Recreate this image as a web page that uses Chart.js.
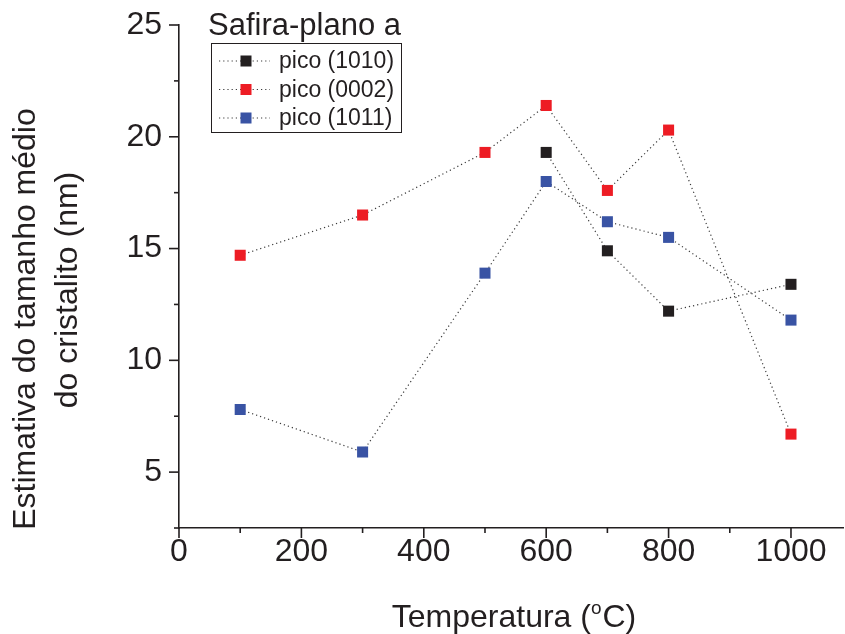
<!DOCTYPE html>
<html>
<head>
<meta charset="utf-8">
<title>Tamanho médio do cristalito - Safira-plano a</title>
<script src="https://cdn.jsdelivr.net/npm/chart.js@4/dist/chart.umd.min.js"></script>
<style>
  html, body { margin: 0; padding: 0; background: #ffffff; }
  canvas { display: block; }
</style>
</head>
<body>
<canvas id="chart" width="845" height="634"></canvas>
<script>
// Temperatures (°C) and crystallite sizes (nm) per diffraction peak
const temps1010 = [600, 700, 800, 1000];
const size1010  = [19.3, 14.9, 12.2, 13.4];

const temps0002 = [100, 300, 500, 600, 700, 800, 1000];
const size0002  = [14.7, 16.5, 19.3, 21.4, 17.6, 20.3, 6.7];

const temps1011 = [100, 300, 500, 600, 700, 800, 1000];
const size1011  = [7.8, 5.9, 13.9, 18.0, 16.2, 15.5, 11.8];

const seriesNames = ['pico (1010)', 'pico (0002)', 'pico (1011)'];
const seriesColors = ['#231f20', '#ed1c24', '#3953a4'];

const xMajorTicks = [0, 200, 400, 600, 800, 1000];
const xMinorTicks = [100, 300, 500, 700, 900];
const yMajorTicks = [5, 10, 15, 20, 25];
const yMinorTicks = [2.5, 7.5, 12.5, 17.5, 22.5];

const legendTitle = 'Safira-plano a';
const xTitle = 'Temperatura (';
const xTitleSup = 'o';
const xTitleEnd = 'C)';
const yTitleLines = ['Estimativa do tamanho médio', 'do cristalito (nm)'];

const FONT = '"Liberation Sans", Arial, Helvetica, sans-serif';
const INK = '#231f20';

function toPoints(xs, ys) {
  return xs.map((x, i) => ({ x: x, y: ys[i] }));
}

function makeDataset(i, xs, ys) {
  return {
    label: seriesNames[i],
    data: toPoints(xs, ys),
    borderColor: '#3a3a3a',
    borderWidth: 1.2,
    borderDash: [1.2, 3],
    backgroundColor: seriesColors[i],
    pointBackgroundColor: seriesColors[i],
    pointBorderWidth: 0,
    pointStyle: 'rect',
    pointRadius: 7.8,
    pointHoverRadius: 7.8,
    tension: 0,
    fill: false
  };
}

// Axis ticks, axis titles and the boxed legend
const decorations = {
  id: 'decorations',
  afterDraw(chart) {
    const ctx = chart.ctx;
    const xs = chart.scales.x, ys = chart.scales.y;
    const area = chart.chartArea;
    ctx.save();
    ctx.strokeStyle = INK;
    ctx.lineWidth = 1.6;
    // x ticks pointing down
    const drawX = (vals, len) => vals.forEach(v => {
      const px = xs.getPixelForValue(v);
      ctx.beginPath(); ctx.moveTo(px, area.bottom); ctx.lineTo(px, area.bottom + len); ctx.stroke();
    });
    drawX(xMajorTicks, 10);
    drawX(xMinorTicks, 5);
    // y ticks pointing left
    const drawY = (vals, len) => vals.forEach(v => {
      const py = ys.getPixelForValue(v);
      ctx.beginPath(); ctx.moveTo(area.left, py); ctx.lineTo(area.left - len, py); ctx.stroke();
    });
    drawY(yMajorTicks, 10);
    drawY(yMinorTicks, 5);

    // x axis title with superscript degree mark
    ctx.fillStyle = INK;
    ctx.textBaseline = 'alphabetic';
    ctx.textAlign = 'left';
    const big = '32px ' + FONT, small = '19px ' + FONT;
    ctx.font = big;
    const w1 = ctx.measureText(xTitle).width;
    const w3 = ctx.measureText(xTitleEnd).width;
    ctx.font = small;
    const w2 = ctx.measureText(xTitleSup).width + 1;
    const total = w1 + w2 + w3;
    const cx = (area.left + area.right) / 2 + 3;
    let x0 = cx - total / 2;
    const base = 627;
    ctx.font = big; ctx.fillText(xTitle, x0, base);
    ctx.font = small; ctx.fillText(xTitleSup, x0 + w1, base - 13);
    ctx.font = big; ctx.fillText(xTitleEnd, x0 + w1 + w2, base);

    // y axis title, two rotated lines
    ctx.font = big;
    ctx.textAlign = 'center';
    const yPos = [[35, 319], [77, 290]];
    yTitleLines.forEach((line, i) => {
      ctx.save();
      ctx.translate(yPos[i][0], yPos[i][1]);
      ctx.rotate(-Math.PI / 2);
      ctx.fillText(line, 0, 0);
      ctx.restore();
    });

    // legend title
    ctx.textAlign = 'left';
    ctx.font = '31px ' + FONT;
    ctx.fillText(legendTitle, 208, 35);

    // legend box
    const bx = 211, by = 43, bw = 190, bh = 89;
    ctx.lineWidth = 1;
    ctx.strokeStyle = INK;
    ctx.strokeRect(bx + 0.5, by + 0.5, bw, bh);

    const rows = [61, 89.5, 118];
    chart.data.datasets.forEach((ds, i) => {
      const ry = rows[i];
      ctx.save();
      ctx.strokeStyle = ds.borderColor;
      ctx.lineWidth = 1.2;
      ctx.setLineDash(ds.borderDash);
      ctx.beginPath(); ctx.moveTo(219, ry); ctx.lineTo(270, ry); ctx.stroke();
      ctx.restore();
      ctx.fillStyle = ds.pointBackgroundColor;
      ctx.fillRect(246 - 5.5, ry - 5.5, 11, 11);
      ctx.fillStyle = INK;
      ctx.font = '23px ' + FONT;
      ctx.textBaseline = 'middle';
      ctx.fillText(ds.label, 279, ry + 1);
    });
    ctx.restore();
  }
};

new Chart(document.getElementById('chart'), {
  type: 'line',
  data: {
    datasets: [
      makeDataset(0, temps1010, size1010),
      makeDataset(1, temps0002, size0002),
      makeDataset(2, temps1011, size1011)
    ]
  },
  options: {
    responsive: false,
    animation: false,
    devicePixelRatio: 1,
    layout: { autoPadding: false, padding: { left: 0, top: 25, right: 2, bottom: 0 } },
    plugins: {
      legend: { display: false },
      tooltip: { enabled: false },
      title: { display: false }
    },
    scales: {
      x: {
        type: 'linear',
        min: 0,
        max: 1085,
        afterBuildTicks: s => { s.ticks = xMajorTicks.map(v => ({ value: v })); },
        afterFit: s => { s.height = 106; s.paddingLeft = 0; s.paddingRight = 0; },
        grid: { display: false, drawTicks: false },
        border: { display: true, color: INK, width: 1.6 },
        ticks: {
          color: INK,
          font: { family: FONT, size: 32 },
          padding: 5,
          maxRotation: 0,
          autoSkip: false,
          callback: v => String(v)
        }
      },
      y: {
        type: 'linear',
        min: 2.5,
        max: 25,
        afterBuildTicks: s => { s.ticks = yMajorTicks.map(v => ({ value: v })); },
        afterFit: s => { s.width = 179; s.paddingTop = 0; s.paddingBottom = 0; },
        grid: { display: false, drawTicks: false },
        border: { display: true, color: INK, width: 1.6 },
        ticks: {
          color: INK,
          font: { family: FONT, size: 32 },
          padding: 17,
          autoSkip: false,
          callback: v => String(v)
        }
      }
    }
  },
  plugins: [decorations]
});
</script>
</body>
</html>
